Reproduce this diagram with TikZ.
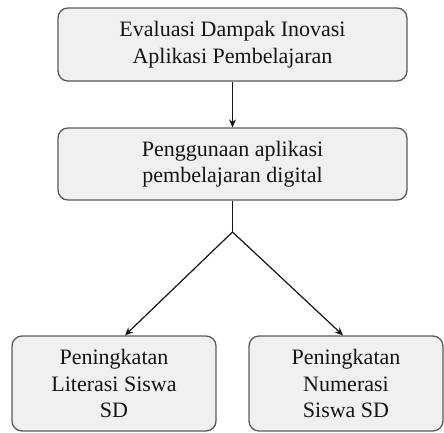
\documentclass[tikz,border=0pt]{standalone}
\usepackage{fontspec}
\setmainfont{Liberation Serif}
\usetikzlibrary{arrows.meta, positioning}
\definecolor{boxfill}{HTML}{F0F0F0}
\definecolor{boxline}{HTML}{5A5A5A}
\definecolor{inkdark}{HTML}{141414}

\begin{document}
\begin{tikzpicture}[x=1pt, y=-1pt,
    kotak/.style={draw=boxline, fill=boxfill, rounded corners=10pt, line width=1.3pt, align=center, text=inkdark, font=\fontsize{22}{26.5}\selectfont},
    panah/.style={-{Stealth[length=8pt, width=7pt]}, line width=1.2pt, inkdark}]
    \useasboundingbox (0,0) rectangle (444,432);

    % Evaluasi
    \node[kotak, minimum width=349pt, minimum height=73pt] (eval) at (232.5,44.5) {Evaluasi Dampak Inovasi\\Aplikasi Pembelajaran};

    % Penggunaan
    \node[kotak, minimum width=349pt, minimum height=72pt] (guna) at (232.5,164) {Penggunaan aplikasi\\pembelajaran digital};

    % Hasil
    \node[kotak, minimum width=204pt, minimum height=95pt] (lit) at (114,383.5) {Peningkatan\\Literasi Siswa\\SD};
    \node[kotak, minimum width=194pt, minimum height=95pt] (num) at (346,383.5) {Peningkatan\\Numerasi\\Siswa SD};

    % Links
    \coordinate (cabang) at (232.5,232);
    \draw[panah] (eval) -- (guna);
    \draw[line width=1.2pt, inkdark] (guna) -- (cabang);
    \draw[panah] (cabang) -- ([xshift=11pt]lit.north);
    \draw[panah] (cabang) -- ([xshift=-3pt]num.north);
\end{tikzpicture}
\end{document}
